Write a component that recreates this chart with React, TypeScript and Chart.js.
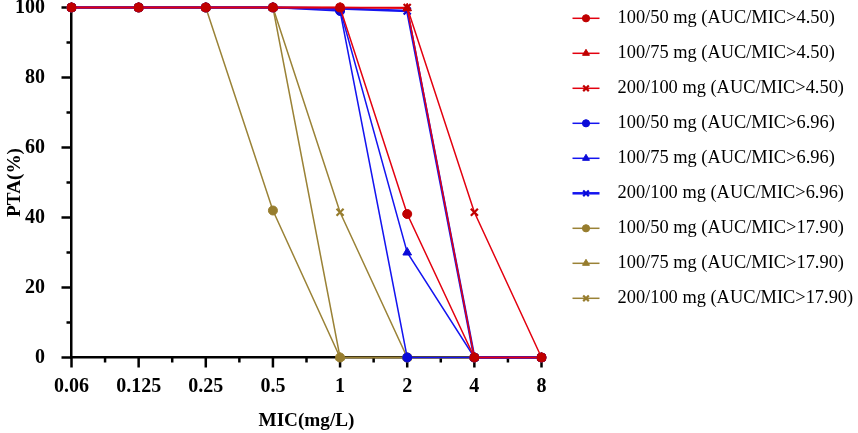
import { useEffect, useRef } from "react";
import Chart from "chart.js/auto";
import { drawPoint } from "chart.js/helpers";

const MIC = ["0.06", "0.125", "0.25", "0.5", "1", "2", "4", "8"];

// AUC/MIC > 4.50
const R_50 = [100, 100, 100, 100, 100, 41, 0, 0];
const R_75 = [100, 100, 100, 100, 100, 99.8, 0, 0];
const R_100 = [100, 100, 100, 100, 100, 100, 41.5, 0];
// AUC/MIC > 6.96
const B_50 = [100, 100, 100, 100, 99, 0, 0, 0];
const B_75 = [100, 100, 100, 100, 99.5, 30, 0, 0];
const B_100 = [100, 100, 100, 100, 99.7, 99, 0, 0];
// AUC/MIC > 17.90
const O_50 = [100, 100, 100, 42, 0, 0, 0, 0];
const O_75 = [100, 100, 100, 100, 0, 0, 0, 0];
const O_100 = [100, 100, 100, 100, 41.5, 0, 0, 0];

const RED = "#e3000f";
const RED_PT = "#c00000";
const BLUE = "#1414f0";
const BLUE_PT = "#0a0ad8";
const OLIVE = "#9a8236";
const OLIVE_PT = "#977d2e";

const FONT = "'Liberation Serif', 'Times New Roman', serif";

function series(label: string, data: number[], line: string, pt: string, style: string, width = 1.5) {
  const isCross = style === "crossRot";
  return {
    label,
    data,
    borderColor: line,
    borderWidth: width,
    pointStyle: style,
    pointRadius: isCross ? 5 : style === "triangle" ? 5 : 4.5,
    pointBackgroundColor: pt,
    pointBorderColor: pt,
    pointBorderWidth: isCross ? 2.2 : 1,
    tension: 0,
    fill: false,
    clip: false as any,
  };
}

const sideLegend = {
  id: "sideLegend",
  afterDraw(chart: any) {
    const { ctx, chartArea } = chart;
    const x0 = chartArea.right + 31;
    ctx.save();
    chart.data.datasets.forEach((ds: any, i: number) => {
      const y = 18.3 + i * 35;
      ctx.strokeStyle = ds.borderColor;
      ctx.lineWidth = ds.borderWidth;
      ctx.beginPath();
      ctx.moveTo(x0, y);
      ctx.lineTo(x0 + 27, y);
      ctx.stroke();
      ctx.fillStyle = ds.pointBackgroundColor;
      ctx.strokeStyle = ds.pointBorderColor;
      ctx.lineWidth = ds.pointBorderWidth;
      drawPoint(ctx, { pointStyle: ds.pointStyle, radius: ds.pointRadius * 0.8, rotation: 0, borderWidth: ds.pointBorderWidth } as any, x0 + 13.5, y);
      ctx.fillStyle = "#000";
      ctx.font = `18.4px ${FONT}`;
      ctx.textBaseline = "middle";
      ctx.textAlign = "left";
      ctx.fillText(ds.label, x0 + 45, y);
    });
    ctx.restore();
  },
};

const axisTicks = {
  id: "axisTicks",
  beforeDatasetsDraw(chart: any) {
    const { ctx, chartArea: a, scales } = chart;
    const { x, y } = scales;
    ctx.save();
    ctx.strokeStyle = "#000";
    ctx.lineWidth = 2.5;
    const seg = (x1: number, y1: number, x2: number, y2: number) => {
      ctx.beginPath();
      ctx.moveTo(x1, y1);
      ctx.lineTo(x2, y2);
      ctx.stroke();
    };
    for (let v = 0; v <= 100; v += 10) {
      const py = y.getPixelForValue(v);
      seg(a.left - (v % 20 === 0 ? 10 : 5), py, a.left, py);
    }
    for (let i = 0; i < MIC.length; i++) {
      const px = x.getPixelForValue(i);
      seg(px, a.bottom, px, a.bottom + 10);
      if (i < MIC.length - 1) {
        const mx = x.getPixelForValue(i + 0.5);
        seg(mx, a.bottom, mx, a.bottom + 5);
      }
    }
    ctx.restore();
  },
};

export default function App() {
  const canvasRef = useRef<HTMLCanvasElement>(null);
  const chartRef = useRef<Chart | null>(null);

  useEffect(() => {
    const el = canvasRef.current;
    if (!el) return;
    chartRef.current?.destroy();

    const tickFont = { family: FONT, size: 20, weight: "bold" as const };
    const titleFont = { family: FONT, size: 19.2, weight: "bold" as const };

    chartRef.current = new Chart(el, {
      type: "line",
      data: {
        labels: MIC,
        datasets: [
          series("100/50 mg (AUC/MIC>4.50)", R_50, RED, RED_PT, "circle"),
          series("100/75 mg (AUC/MIC>4.50)", R_75, RED, RED_PT, "triangle"),
          series("200/100 mg (AUC/MIC>4.50)", R_100, RED, RED_PT, "crossRot"),
          series("100/50 mg (AUC/MIC>6.96)", B_50, BLUE, BLUE_PT, "circle"),
          series("100/75 mg (AUC/MIC>6.96)", B_75, BLUE, BLUE_PT, "triangle"),
          series("200/100 mg (AUC/MIC>6.96)", B_100, BLUE, BLUE_PT, "crossRot", 2.5),
          series("100/50 mg (AUC/MIC>17.90)", O_50, OLIVE, OLIVE_PT, "circle"),
          series("100/75 mg (AUC/MIC>17.90)", O_75, OLIVE, OLIVE_PT, "triangle"),
          series("200/100 mg (AUC/MIC>17.90)", O_100, OLIVE, OLIVE_PT, "crossRot"),
        ] as any,
      },
      options: {
        responsive: false,
        animation: false,
        layout: { padding: { top: 7.5, right: 316.5, left: 0, bottom: 0 } },
        plugins: { legend: { display: false }, tooltip: { enabled: false } },
        scales: {
          x: {
            type: "category",
            offset: false,
            grid: { display: false },
            border: { display: true, color: "#000", width: 2.5 },
            ticks: { color: "#000", font: tickFont, padding: 9, maxRotation: 0, autoSkip: false },
            title: { display: true, text: "MIC(mg/L)", color: "#000", font: titleFont, padding: 0 },
            afterFit: (s: any) => {
              s.height = 75.5;
              s.paddingLeft = 0;
              s.paddingRight = 0;
            },
          },
          y: {
            min: 0,
            max: 100,
            grid: { display: false },
            border: { display: true, color: "#000", width: 2.5 },
            ticks: { stepSize: 20, color: "#000", font: tickFont, padding: 18.5 },
            title: { display: true, text: "PTA(%)", color: "#000", font: titleFont, padding: { top: 4, bottom: 0 } },
            afterFit: (s: any) => {
              s.width = 71.5;
              s.paddingTop = 0;
              s.paddingBottom = 0;
            },
          },
        },
      },
      plugins: [axisTicks, sideLegend],
    });

    return () => chartRef.current?.destroy();
  }, []);

  return (
    <div style={{ position: "fixed", left: 0, top: 0, width: 858, height: 433, background: "#fff" }}>
      <canvas ref={canvasRef} width={858} height={433} />
    </div>
  );
}
